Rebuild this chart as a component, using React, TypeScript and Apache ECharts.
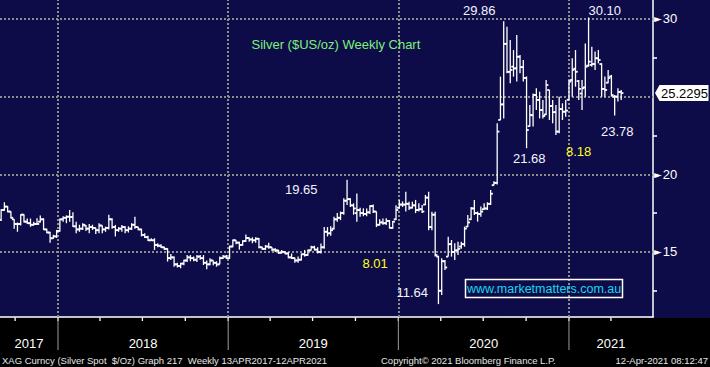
import React, { useEffect, useRef } from 'react';
import * as echarts from 'echarts';

// First weekly bar date (year, month, day); one bar per week after it
const FIRST_BAR = [2017, 9, 1];

// Weekly bars: [open, high, low, close]
const bars2017 = [
  [17.06, 17.75, 17.0, 17.7], [17.7, 18.2, 17.65, 17.92], [17.92, 17.96, 17.55, 17.6], [17.6, 17.62, 17.15, 17.2],
  [17.1, 17.1, 16.5, 16.8], [16.8, 16.9, 16.3, 16.8], [16.8, 17.42, 16.7, 17.4], [17.4, 17.42, 16.9, 16.95],
  [16.95, 17.15, 16.8, 16.85], [16.85, 17.15, 16.62, 16.75], [16.75, 16.95, 16.7, 16.8], [16.8, 17.17, 16.75, 16.8],
  [16.95, 17.34, 16.9, 17.1], [17.1, 17.17, 16.42, 16.45], [16.45, 16.5, 16.2, 16.25], [16.25, 16.3, 15.6, 15.88],
  [15.88, 16.1, 15.85, 16.0], [16.0, 16.42, 15.9, 16.35],
];
const bars2018 = [
  [16.35, 17.15, 16.3, 17.1], [17.1, 17.3, 16.95, 17.2], [17.2, 17.35, 16.85, 17.27], [17.27, 17.7, 16.95, 17.25],
  [17.25, 17.55, 16.6, 16.65], [16.65, 16.95, 16.2, 16.45], [16.45, 16.75, 16.3, 16.5], [16.5, 16.84, 16.42, 16.75],
  [16.7, 16.74, 16.35, 16.5], [16.5, 16.8, 16.2, 16.6], [16.6, 16.75, 16.42, 16.55], [16.55, 16.55, 16.15, 16.4],
  [16.4, 16.84, 16.2, 16.7], [16.7, 16.7, 16.2, 16.45], [16.45, 16.63, 16.3, 16.55], [16.55, 17.4, 16.45, 17.1],
  [17.1, 17.17, 16.5, 16.6], [16.6, 16.74, 16.0, 16.4], [16.4, 16.6, 16.3, 16.5], [16.5, 16.74, 16.3, 16.6],
  [16.6, 16.65, 16.2, 16.4], [16.4, 16.65, 16.25, 16.5], [16.5, 16.84, 16.42, 16.75], [16.75, 17.27, 16.5, 16.6],
  [16.6, 16.63, 16.4, 16.45], [16.45, 16.5, 16.0, 16.1], [16.1, 16.2, 15.9, 15.95], [15.95, 16.05, 15.7, 15.75],
  [15.75, 15.88, 15.7, 15.75], [15.75, 15.88, 15.13, 15.45], [15.45, 15.56, 15.3, 15.4], [15.4, 15.5, 15.25, 15.3],
  [15.3, 15.34, 15.13, 15.2], [15.2, 15.23, 14.38, 14.6], [14.6, 14.87, 14.48, 14.65], [14.65, 14.7, 14.05, 14.2],
  [14.2, 14.3, 14.0, 14.1], [14.1, 14.3, 13.95, 14.25], [14.25, 14.5, 14.15, 14.45], [14.45, 14.8, 14.35, 14.65],
  [14.65, 14.8, 14.4, 14.6], [14.6, 14.7, 14.4, 14.5], [14.5, 14.8, 14.35, 14.7], [14.7, 14.8, 14.5, 14.6],
  [14.6, 14.8, 14.16, 14.3], [14.3, 14.45, 13.88, 14.2], [14.2, 14.6, 14.15, 14.45], [14.45, 14.45, 14.15, 14.3],
  [14.3, 14.4, 14.05, 14.2], [14.2, 14.7, 14.2, 14.6], [14.6, 14.8, 14.55, 14.7], [14.7, 14.8, 14.55, 14.6],
];
const bars2019 = [
  [14.6, 15.4, 14.55, 15.35], [15.35, 15.8, 15.3, 15.75], [15.75, 15.75, 15.5, 15.6], [15.6, 15.66, 15.15, 15.45],
  [15.45, 15.75, 15.4, 15.7], [15.7, 16.13, 15.65, 15.9], [15.9, 15.94, 15.66, 15.8], [15.8, 15.94, 15.56, 15.75],
  [15.75, 15.94, 15.6, 15.85], [15.85, 15.9, 15.23, 15.3], [15.3, 15.34, 15.13, 15.2], [15.2, 15.45, 15.13, 15.35],
  [15.35, 15.6, 15.2, 15.3], [15.3, 15.3, 15.05, 15.15], [15.15, 15.23, 15.0, 15.1], [15.1, 15.13, 14.87, 14.95],
  [14.95, 15.13, 14.9, 15.0], [15.0, 15.05, 14.85, 14.9], [14.9, 15.0, 14.59, 14.65], [14.65, 14.9, 14.55, 14.6],
  [14.6, 14.65, 14.3, 14.45], [14.45, 14.7, 14.3, 14.5], [14.5, 14.9, 14.45, 14.85], [14.85, 15.13, 14.7, 14.8],
  [14.8, 15.15, 14.75, 15.1], [15.1, 15.4, 15.1, 15.3], [15.3, 15.4, 15.1, 15.15], [15.15, 15.3, 14.9, 15.0],
  [15.0, 15.55, 14.9, 15.3], [15.3, 16.6, 15.2, 16.3], [16.3, 16.6, 16.0, 16.2], [16.2, 16.65, 16.05, 16.4],
  [16.5, 17.27, 16.45, 17.1], [17.1, 17.5, 16.95, 17.2], [17.2, 17.6, 17.05, 17.5], [17.5, 18.45, 17.4, 18.3],
  [18.3, 19.65, 18.02, 18.4], [18.4, 18.45, 17.9, 18.0], [18.0, 18.13, 17.4, 17.8], [17.5, 18.77, 16.95, 17.7],
  [17.7, 17.85, 17.27, 17.5], [17.5, 17.81, 17.3, 17.45], [17.45, 17.8, 17.3, 17.55], [17.55, 18.0, 17.45, 17.95],
  [17.95, 18.05, 17.5, 17.6], [17.6, 17.6, 16.6, 16.75], [16.75, 17.1, 16.7, 16.9], [16.9, 17.15, 16.75, 16.85],
  [16.85, 17.17, 16.74, 17.0], [17.0, 17.06, 16.52, 16.55], [16.55, 17.0, 16.5, 16.95], [17.1, 18.0, 17.06, 17.7],
];
const bars2020 = [
  [17.85, 18.35, 17.8, 18.05], [18.05, 18.25, 17.9, 18.05], [18.05, 18.88, 17.6, 18.1], [18.1, 18.24, 17.7, 17.85],
  [17.85, 18.24, 17.8, 18.0], [18.0, 18.35, 17.5, 17.7], [17.7, 18.13, 17.6, 17.75], [17.75, 18.02, 17.5, 17.6],
  [18.05, 18.67, 18.02, 18.5], [18.5, 18.88, 16.4, 16.6], [16.6, 17.59, 16.4, 17.4], [17.4, 17.59, 14.7, 14.8],
  [14.7, 14.75, 11.64, 12.5], [12.5, 14.6, 12.23, 14.4], [14.4, 14.48, 13.84, 14.0], [14.7, 15.98, 14.7, 15.5],
  [15.5, 15.77, 14.7, 15.0], [15.0, 15.56, 14.48, 15.1], [15.1, 15.66, 14.8, 15.2], [15.35, 15.66, 15.2, 15.5],
  [15.5, 16.63, 15.34, 16.5], [16.63, 17.38, 16.6, 16.9], [17.1, 17.9, 17.06, 17.8], [17.8, 18.35, 17.38, 17.5],
  [17.5, 17.6, 16.95, 17.45], [17.45, 17.92, 17.27, 17.6], [17.75, 18.13, 17.7, 17.8], [17.8, 18.2, 17.7, 18.1],
  [18.1, 18.99, 18.02, 18.75], [19.3, 19.55, 19.28, 19.45], [19.45, 23.28, 19.35, 22.75], [23.5, 26.29, 23.5, 24.5],
  [24.5, 29.86, 23.6, 28.4], [28.4, 29.5, 26.5, 26.6], [26.6, 28.65, 25.86, 26.72], [26.93, 28.0, 26.29, 26.82],
  [26.82, 28.97, 25.97, 27.57], [27.57, 27.68, 26.5, 26.9], [26.9, 27.36, 25.97, 26.2], [26.2, 26.3, 21.68, 22.85],
  [23.1, 24.46, 23.07, 23.82], [23.8, 25.21, 23.07, 25.11], [25.1, 25.54, 24.14, 24.79], [24.79, 25.32, 23.6, 24.14],
  [24.14, 24.79, 23.6, 23.75], [23.85, 26.07, 23.82, 25.75], [25.43, 25.43, 23.5, 24.4], [24.4, 24.79, 23.28, 24.0],
  [24.0, 24.46, 22.53, 22.75], [22.75, 25.0, 22.64, 24.2], [24.2, 24.57, 23.5, 24.03], [24.03, 24.79, 23.71, 24.1],
];
const bars2021 = [
  [24.8, 26.07, 24.79, 25.97], [26.07, 27.47, 25.0, 26.72], [26.8, 28.0, 25.64, 26.6], [26.0, 26.07, 24.79, 25.5],
  [25.2, 26.07, 24.14, 25.54], [25.6, 28.43, 25.0, 26.93], [27.0, 30.1, 26.93, 27.25], [27.04, 28.22, 26.93, 27.1],
  [27.1, 27.9, 26.72, 27.47], [27.47, 28.0, 27.15, 27.36], [27.1, 27.15, 25.0, 25.5], [25.5, 26.29, 25.0, 25.43],
  [25.9, 26.72, 25.86, 26.2], [26.3, 26.4, 25.0, 25.1], [25.0, 25.11, 23.78, 25.0], [25.0, 25.54, 24.68, 25.3],
  [25.3, 25.43, 24.79, 25.2295],
];

const gridPrices = [15, 20, 25, 30];
const labelPrices = [15, 20, 30];
const minorPrices = [12.5, 17.5, 22.5, 27.5];
const lastPrice = '25.2295';
const yearNames = ['2017', '2018', '2019', '2020', '2021'];
const yearStarts = ['2018-01-01', '2019-01-01', '2020-01-01', '2021-01-01'];
const quarterStarts = [
  '2017-10-01', '2018-01-01', '2018-04-01', '2018-07-01', '2018-10-01', '2019-01-01', '2019-04-01', '2019-07-01',
  '2019-10-01', '2020-01-01', '2020-04-01', '2020-07-01', '2020-10-01', '2021-01-01', '2021-04-01',
];

const TITLE = 'Silver ($US/oz) Weekly Chart';
const WATERMARK = 'www.marketmatters.com.au';
const FOOT_LEFT = 'XAG Curncy (Silver Spot  $/Oz) Graph 217  Weekly 13APR2017-12APR2021';
const FOOT_MID = 'Copyright\u00A9 2021 Bloomberg Finance L.P.';
const FOOT_RIGHT = '12-Apr-2021 08:12:47';

// Text notes: [text, left x, middle y, colour kind]
const notes: [string, number, number, string][] = [
  ['29.86', 463, 10.5, 'w'],
  ['30.10', 588.5, 10, 'w'],
  ['23.78', 601, 131, 'w'],
  ['21.68', 513, 158, 'w'],
  ['8.18', 566, 151.5, 'y'],
  ['19.65', 285, 189.5, 'w'],
  ['8.01', 362.5, 263, 'y'],
  ['11.64', 396.5, 292, 'w'],
];

const NAVY = '#0e0c48';
const FONT = '"Liberation Sans", Arial, sans-serif';
const WEEK = 7 * 864e5;

const ts = (s: string) => {
  const [y, m, d] = s.split('-').map(Number);
  return new Date(y, m - 1, d).getTime();
};

export default function App() {
  const ref = useRef<HTMLDivElement>(null);
  useEffect(() => {
    document.body.style.margin = '0';
    const chart = echarts.init(ref.current as HTMLDivElement, null, { renderer: 'svg' });
    const allBars = [...bars2017, ...bars2018, ...bars2019, ...bars2020, ...bars2021];
    const data = allBars.map((b, i) => [
      new Date(FIRST_BAR[0], FIRST_BAR[1] - 1, FIRST_BAR[2] + 7 * i).getTime(),
      b[0], b[1], b[2], b[3],
    ]);
    const xMin = new Date(2017, 7, 29, 14).getTime();
    const xMax = new Date(2021, 5, 30, 5).getTime();
    const yMin = 10.811;
    const yMax = 31.2234;

    chart.setOption({
      animation: false,
      backgroundColor: NAVY,
      grid: { left: 0, right: 57, top: 0, bottom: 50 },
      tooltip: { show: false },
      xAxis: {
        type: 'time',
        min: xMin,
        max: xMax,
        axisLine: { show: true, lineStyle: { color: '#ffffff', width: 1.5 } },
        axisTick: { show: false },
        axisLabel: { show: false },
        splitLine: { show: false },
      },
      yAxis: {
        type: 'value',
        position: 'right',
        min: yMin,
        max: yMax,
        splitLine: { show: false },
        axisLine: { show: true, lineStyle: { color: '#ffffff', width: 1.5 } },
        axisTick: {
          show: true,
          customValues: minorPrices,
          length: 4,
          lineStyle: { color: '#ffffff', width: 1.5 },
        },
        axisLabel: {
          show: true,
          customValues: labelPrices,
          margin: 1,
          formatter: (v: number) => `{t|\u25BA}{n|${v}}`,
          rich: {
            t: { fontSize: 10, color: '#ffffff', fontFamily: 'DejaVu Sans' },
            n: { fontSize: 13, color: '#ffffff', fontFamily: FONT, padding: [0, 0, 0, 1] },
          },
        },
      },
      series: [
        {
          type: 'custom',
          data,
          encode: { x: 0, y: [1, 2, 3, 4] },
          z: 3,
          renderItem: (params: any, api: any) => {
            const t = api.value(0);
            const o = api.coord([t, api.value(1)]);
            const h = api.coord([t, api.value(2)]);
            const l = api.coord([t, api.value(3)]);
            const c = api.coord([t, api.value(4)]);
            const wk = api.coord([t + WEEK, api.value(4)])[0] - h[0];
            const tick = wk * 0.68;
            const x = h[0];
            return {
              type: 'group',
              children: [
                { type: 'line', shape: { x1: x, y1: h[1], x2: x, y2: l[1] }, style: { stroke: '#ffffff', lineWidth: 1.3 } },
                { type: 'line', shape: { x1: x - tick, y1: o[1], x2: x, y2: o[1] }, style: { stroke: '#ffffff', lineWidth: 1.8 } },
                { type: 'line', shape: { x1: x, y1: c[1], x2: x + tick, y2: c[1] }, style: { stroke: '#ffffff', lineWidth: 1.8 } },
              ],
            };
          },
          markLine: {
            silent: true,
            symbol: ['none', 'none'],
            label: { show: false },
            emphasis: { disabled: true },
            lineStyle: { color: '#8e8e8e', width: 2, type: [2, 2] },
            z: 1,
            data: [
              ...gridPrices.map((v) => ({ yAxis: v })),
              ...yearStarts.map((d) => ({ xAxis: ts(d) })),
            ],
          },
        },
      ],
    });

    const px = (t: number) => chart.convertToPixel({ xAxisIndex: 0 }, t) as number;
    const py = (v: number) => chart.convertToPixel({ yAxisIndex: 0 }, v) as number;
    const left = px(xMin);
    const right = px(xMax);
    const bottom = py(yMin);

    const els: any[] = [];
    // black footer band
    els.push({ type: 'rect', shape: { x: 0, y: bottom + 1, width: 710, height: 367 - bottom }, style: { fill: '#000000' }, z: -1, silent: true });
    // quarter ticks
    quarterStarts.forEach((d) => {
      const x = px(ts(d));
      els.push({ type: 'line', shape: { x1: x, y1: bottom + 0.5, x2: x, y2: bottom + 4 }, style: { stroke: '#ffffff', lineWidth: 1.3 }, z: 5 });
    });
    // year separators in footer
    yearStarts.forEach((d) => {
      const x = px(ts(d));
      els.push({ type: 'line', shape: { x1: x, y1: bottom + 1, x2: x, y2: bottom + 33 }, style: { stroke: '#9c9c9c', lineWidth: 1 }, z: 6 });
    });
    // year labels centred in each visible year span
    const bounds = [xMin, ...yearStarts.map(ts), xMax];
    yearNames.forEach((name, i) => {
      const cx = (px(bounds[i]) + px(bounds[i + 1])) / 2;
      els.push({ type: 'text', x: cx, y: bottom + 26, style: { text: name, fill: '#ffffff', font: `13px ${FONT}`, textAlign: 'center', textVerticalAlign: 'middle' }, z: 6 });
    });
    // footer texts
    els.push({ type: 'text', x: 2, y: 360, style: { text: FOOT_LEFT, fill: '#e6e6e6', font: `9.5px ${FONT}`, textAlign: 'left', textVerticalAlign: 'middle' }, z: 6 });
    els.push({ type: 'text', x: 381, y: 360, style: { text: FOOT_MID, fill: '#e6e6e6', font: `9.5px ${FONT}`, textAlign: 'left', textVerticalAlign: 'middle' }, z: 6 });
    els.push({ type: 'text', x: 708, y: 360, style: { text: FOOT_RIGHT, fill: '#e6e6e6', font: `9.5px ${FONT}`, textAlign: 'right', textVerticalAlign: 'middle' }, z: 6 });
    // title
    els.push({ type: 'text', x: 251.5, y: 44, style: { text: TITLE, fill: '#7cf07c', font: `13px ${FONT}`, textAlign: 'left', textVerticalAlign: 'middle' }, z: 6 });
    // notes
    notes.forEach(([text, x, y, kind]) => {
      els.push({ type: 'text', x, y, style: { text, fill: kind === 'y' ? '#ffff1a' : '#f2f4ff', font: `13px ${FONT}`, textAlign: 'left', textVerticalAlign: 'middle' }, z: 6 });
    });
    // watermark box
    els.push({ type: 'rect', shape: { x: 465.5, y: 279.5, width: 157, height: 18 }, style: { fill: 'none', stroke: '#ffffff', lineWidth: 1.5 }, z: 6 });
    els.push({ type: 'text', x: 467, y: 288.8, style: { text: WATERMARK, fill: '#17d6ee', font: `12.5px ${FONT}`, textAlign: 'left', textVerticalAlign: 'middle' }, z: 7 });
    // last price box
    const yc = py(Number(lastPrice));
    const ax = right + 2;
    els.push({
      type: 'polygon',
      shape: { points: [[ax, yc], [ax + 4.5, yc - 8], [708.5, yc - 8], [708.5, yc + 8], [ax + 4.5, yc + 8]] },
      style: { fill: '#ffffff' },
      z: 8,
    });
    els.push({ type: 'text', x: ax + 6, y: yc + 0.5, style: { text: lastPrice, fill: '#000000', font: `13px ${FONT}`, textAlign: 'left', textVerticalAlign: 'middle' }, z: 9 });

    chart.setOption({ graphic: els });
    return () => chart.dispose();
  }, []);
  return <div ref={ref} style={{ width: 710, height: 367 }} />;
}
